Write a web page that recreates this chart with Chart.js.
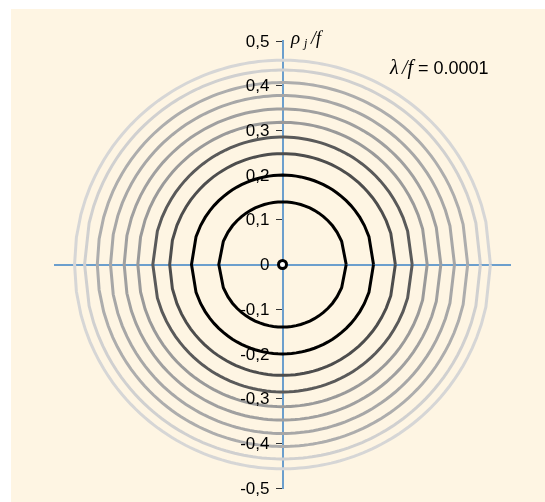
<!DOCTYPE html>
<html>
<head>
<meta charset="utf-8">
<script src="https://cdn.jsdelivr.net/npm/chart.js@4.4.0/dist/chart.umd.min.js"></script>
<style>
    html, body { margin: 0; padding: 0; background: #ffffff; }
    canvas { display: block; }
</style>
</head>
<body>
<canvas id="zones" width="545" height="502"></canvas>
<script>
// Zone radii rho_j/f, inner to outer (j = 1..10)
const zoneRadii = [0.14, 0.20, 0.248, 0.285, 0.318, 0.348, 0.378, 0.407, 0.435, 0.457];
const zoneColors = ['#000000', '#000000', '#4d4d4d', '#5a5a5a', '#9a9a9a', '#a0a0a0',
                    '#a7a7a7', '#adadad', '#d0d0d0', '#d6d6d6'];
// the curves are sampled in x with a fixed step, which gives the corners on the x axis
const xStep = 0.01;

const yTickValues = [-0.5, -0.4, -0.3, -0.2, -0.1, 0, 0.1, 0.2, 0.3, 0.4, 0.5];
const yTickLabels = ['-0,5', '-0,4', '-0,3', '-0,2', '-0,1', '0', '0,1', '0,2', '0,3', '0,4', '0,5'];

const centerPoint = [{ x: 0, y: 0 }];

const axisBlue = '#6c9fcd';

function ringPoints(r) {
    const xs = [];
    for (let x = r; x > -r; x -= xStep) xs.push(x);
    xs.push(-r);
    const upper = xs.map(x => ({ x: x, y: Math.sqrt(Math.max(0, r * r - x * x)) }));
    const lower = xs.slice().reverse().map(x => ({ x: x, y: -Math.sqrt(Math.max(0, r * r - x * x)) }));
    return upper.concat(lower.slice(1));
}

const datasets = zoneRadii.map((r, i) => ({
    data: ringPoints(r),
    showLine: true,
    borderColor: zoneColors[i],
    borderWidth: 3,
    pointRadius: 0,
    tension: 0,
    order: 1
})).reverse();

datasets.push({
    data: centerPoint,
    showLine: false,
    pointRadius: 4,
    borderWidth: 3,
    borderColor: '#000000',
    backgroundColor: '#ffffff',
    order: 0
});

const backdrop = {
    id: 'backdrop',
    beforeDraw(chart) {
        const ctx = chart.ctx;
        ctx.save();
        ctx.fillStyle = '#fef5e3';
        ctx.fillRect(11, 9, chart.width - 11, chart.height - 9);
        ctx.restore();
    }
};

const labels = {
    id: 'labels',
    afterDraw(chart) {
        const ctx = chart.ctx;
        const xAxis = chart.scales.x;
        const yAxis = chart.scales.y;
        const ax = xAxis.getPixelForValue(0);
        ctx.save();
        ctx.fillStyle = '#000000';

        // y tick labels, left of the tick marks
        ctx.font = '17px "Liberation Sans"';
        ctx.textAlign = 'right';
        ctx.textBaseline = 'middle';
        yTickValues.forEach((v, i) => {
            ctx.fillText(yTickLabels[i], ax - 13, yAxis.getPixelForValue(v) + 1);
        });

        ctx.textAlign = 'left';
        ctx.textBaseline = 'alphabetic';
        // axis title rho_j / f
        ctx.font = 'italic 19px "Liberation Serif"';
        ctx.fillText('\u03C1', 291, 44);
        ctx.font = 'italic 12px "Liberation Serif"';
        ctx.fillText('j', 304, 47);
        ctx.font = 'italic 18px "Liberation Serif"';
        ctx.fillText('/f', 311, 44);
        // lambda / f note
        ctx.font = 'italic 20px "Liberation Serif"';
        ctx.fillText('\u03BB', 390, 74);
        ctx.fillText('/f', 402, 74);
        ctx.font = '18px "Liberation Sans"';
        ctx.fillText('= 0.0001', 418, 74);
        ctx.restore();
    }
};

new Chart(document.getElementById('zones'), {
    type: 'scatter',
    data: { datasets: datasets },
    options: {
        responsive: false,
        animation: false,
        layout: { padding: { left: 55, right: 35, top: 41, bottom: 14 } },
        plugins: {
            legend: { display: false },
            tooltip: { enabled: false }
        },
        scales: {
            x: {
                type: 'linear',
                min: -0.5,
                max: 0.5,
                position: { y: 0 },
                grid: { display: true, drawOnChartArea: false, drawTicks: false, color: 'rgba(0,0,0,0)' },
                border: { display: true, color: axisBlue, width: 2 },
                ticks: { display: false }
            },
            y: {
                type: 'linear',
                min: -0.5,
                max: 0.5,
                position: { x: 0 },
                afterBuildTicks(scale) {
                    scale.ticks = yTickValues.map(v => ({ value: v }));
                },
                grid: { display: true, drawOnChartArea: false, drawTicks: true, tickLength: 6, color: '#333333' },
                border: { display: true, color: axisBlue, width: 2 },
                ticks: { display: false }
            }
        }
    },
    plugins: [backdrop, labels]
});
</script>
</body>
</html>
